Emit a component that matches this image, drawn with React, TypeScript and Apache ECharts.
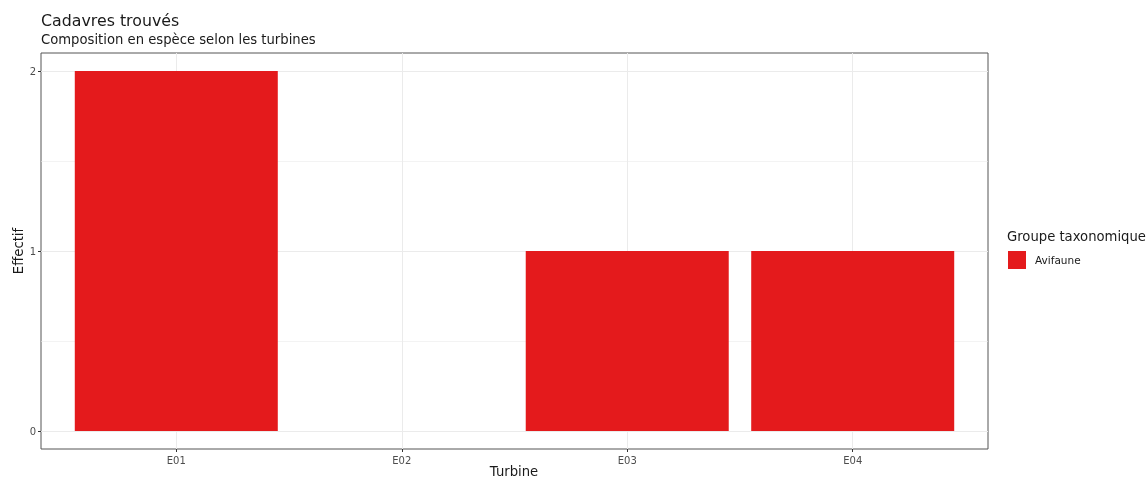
import React, { useEffect, useRef } from "react";
import * as echarts from "echarts";

const categories = ["E01", "E02", "E03", "E04"];
const counts = [2, 0, 1, 1];
const yTicks = [0, 1, 2];
const yMinor = [0.5, 1.5];
const seriesName = "Avifaune";

const FONT = "DejaVu Sans";

export default function App() {
  const ref = useRef<HTMLDivElement>(null);
  useEffect(() => {
    const chart = echarts.init(ref.current!, null, { renderer: "svg" });
    const xPos = categories.map((_, i) => i + 1);
    chart.setOption({
      animation: false,
      textStyle: { fontFamily: FONT },
      grid: {
        left: 41,
        top: 53,
        width: 947,
        height: 396,
        show: true,
        borderColor: "#555555",
        borderWidth: 1,
        backgroundColor: "#ffffff",
        outerBoundsMode: "none",
        containLabel: false,
      },
      xAxis: {
        type: "value",
        min: 0.4,
        max: 4.6,
        position: "bottom",
        axisLine: { show: false, onZero: false },
        axisTick: {
          show: true,
          length: 3,
          customValues: xPos,
          lineStyle: { color: "#333333" },
        },
        axisLabel: {
          customValues: xPos,
          formatter: (v: number) => categories[Math.round(v) - 1] ?? "",
          fontSize: 10,
          color: "#4d4d4d",
          margin: 6,
          fontFamily: FONT,
        },
        splitLine: { show: true, lineStyle: { color: "#ebebeb", width: 1 } },
      },
      yAxis: {
        type: "value",
        min: -0.1,
        max: 2.1,
        position: "left",
        axisLine: { show: false, onZero: false },
        axisTick: {
          show: true,
          length: 3,
          customValues: yTicks,
          lineStyle: { color: "#333333" },
        },
        axisLabel: {
          customValues: yTicks,
          fontSize: 10,
          color: "#4d4d4d",
          margin: 5,
          fontFamily: FONT,
        },
        splitLine: { show: true, lineStyle: { color: "#ebebeb", width: 1 } },
      },
      legend: {
        left: 1008,
        top: 251,
        padding: 0,
        orient: "vertical",
        icon: "rect",
        itemWidth: 18,
        itemHeight: 18,
        itemGap: 4,
        textStyle: { fontSize: 10.5, color: "#1a1a1a", fontFamily: FONT, padding: [0, 0, 0, 4] },
        data: [seriesName],
      },
      graphic: [
        {
          type: "text",
          left: 41,
          top: 12,
          style: { text: "Cadavres trouvés", fontSize: 15.8, fill: "#1a1a1a", fontFamily: FONT },
        },
        {
          type: "text",
          left: 41,
          top: 33,
          style: {
            text: "Composition en espèce selon les turbines",
            fontSize: 13.2,
            fill: "#1a1a1a",
            fontFamily: FONT,
          },
        },
        {
          type: "text",
          left: 1007,
          top: 230,
          style: { text: "Groupe taxonomique", fontSize: 13.2, fill: "#1a1a1a", fontFamily: FONT },
        },
        {
          type: "text",
          x: 514,
          y: 471,
          style: {
            text: "Turbine",
            fontSize: 13.2,
            fill: "#1a1a1a",
            fontFamily: FONT,
            align: "center",
            verticalAlign: "middle",
          },
        },
        {
          type: "text",
          x: 18,
          y: 251,
          rotation: Math.PI / 2,
          style: {
            text: "Effectif",
            fontSize: 13.2,
            fill: "#1a1a1a",
            fontFamily: FONT,
            align: "center",
            verticalAlign: "middle",
          },
        },
      ],
      series: [
        {
          name: seriesName,
          type: "bar",
          barWidth: 203,
          itemStyle: { color: "#e41a1c" },
          data: counts.map((c, i) => [xPos[i], c]),
          markLine: {
            silent: true,
            symbol: "none",
            label: { show: false },
            lineStyle: { color: "#ebebeb", width: 0.6, type: "solid" },
            data: yMinor.map((v) => ({ yAxis: v })),
            z: 0,
          },
        },
      ],
    });
    return () => chart.dispose();
  }, []);
  return (
    <div
      ref={ref}
      style={{ position: "fixed", left: 0, top: 0, width: 1148, height: 477 }}
    />
  );
}
